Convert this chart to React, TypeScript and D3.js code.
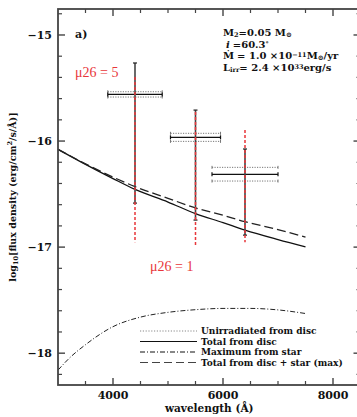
import React from "react";
import * as d3 from "d3";

const solidWave = [3000, 3500, 4000, 4400, 5000, 5500, 6000, 6400, 7000, 7500];
const solidFlux = [-16.078, -16.22, -16.354, -16.456, -16.575, -16.684, -16.769, -16.84, -16.929, -16.997];
const dashedFlux = [-16.078, -16.215, -16.34, -16.43, -16.54, -16.63, -16.70, -16.76, -16.835, -16.905];
const starWave = [3000, 3200, 3500, 4000, 4500, 5000, 5500, 6000, 6500, 7000, 7500];
const starFlux = [-18.16, -18.05, -17.92, -17.75, -17.66, -17.615, -17.59, -17.578, -17.578, -17.592, -17.626];

const obsWave = [4400, 5500, 6400];
const obsHalfWidth = [495, 455, 600];
const obsFlux = [-15.56, -15.965, -16.314];
const obsFluxHi = [-15.264, -15.708, -16.075];
const obsFluxLo = [-16.585, -16.745, -16.887];
const bandHi = [-15.535, -15.927, -16.248];
const bandLo = [-15.585, -16.003, -16.377];
const mu5Flux = [-15.396, -15.726, -15.896];
const mu1Flux = [-16.953, -17.0, -16.953];

const xMajor = [4000, 6000, 8000];
const yMajor = [-15, -16, -17, -18];

const legendLabels = [
  "Unirradiated from disc",
  "Total from disc",
  "Maximum from star",
  "Total from disc + star (max)",
];
const legendDash = ["1.2,1.6", "none", "5,2,1,2", "8,4"];
const legendColor = ["#888", "#111", "#111", "#444"];

export default function App() {
  const W = 357, H = 417;
  const x = d3.scaleLinear().domain([3000, 8500]).range([58, 360.5]);
  const y = d3.scaleLinear().domain([-18.3, -14.755]).range([385, 9]);
  const x0 = x(3000), x1 = x(8500), yT = y(-14.755), yB = y(-18.3);

  const line = d3.line<[number, number]>().x(d => x(d[0])).y(d => y(d[1])).curve(d3.curveMonotoneX);
  const solidPath = line(solidWave.map((w, i) => [w, solidFlux[i]]) as [number, number][]) || "";
  const dashedPath = line(solidWave.map((w, i) => [w, dashedFlux[i]]) as [number, number][]) || "";
  const starPath = line(starWave.map((w, i) => [w, starFlux[i]]) as [number, number][]) || "";

  const xMinor = d3.range(3500, 8501, 500).filter(v => !xMajor.includes(v));
  const yMinor = d3.range(-18.2, -14.75, 0.2).map(v => Math.round(v * 10) / 10).filter(v => !yMajor.includes(v));

  const font = "'DejaVu Serif', serif";
  const axisColor = "#444";

  const ticks: React.ReactNode[] = [];
  xMajor.forEach((v, i) => {
    ticks.push(<line key={"xb" + i} x1={x(v)} x2={x(v)} y1={yB} y2={yB - 7} stroke={axisColor} strokeWidth={1.4} />);
    ticks.push(<line key={"xt" + i} x1={x(v)} x2={x(v)} y1={yT} y2={yT + 7} stroke={axisColor} strokeWidth={1.4} />);
  });
  xMinor.forEach((v, i) => {
    ticks.push(<line key={"xbm" + i} x1={x(v)} x2={x(v)} y1={yB} y2={yB - 4} stroke={axisColor} strokeWidth={1.2} />);
    ticks.push(<line key={"xtm" + i} x1={x(v)} x2={x(v)} y1={yT} y2={yT + 4} stroke={axisColor} strokeWidth={1.2} />);
  });
  yMajor.forEach((v, i) => {
    ticks.push(<line key={"yl" + i} x1={x0} x2={x0 + 7} y1={y(v)} y2={y(v)} stroke={axisColor} strokeWidth={1.4} />);
    ticks.push(<line key={"yr" + i} x1={x1} x2={x1 - 7} y1={y(v)} y2={y(v)} stroke={axisColor} strokeWidth={1.4} />);
  });
  yMinor.forEach((v, i) => {
    ticks.push(<line key={"ylm" + i} x1={x0} x2={x0 + 4} y1={y(v)} y2={y(v)} stroke={axisColor} strokeWidth={1.2} />);
    ticks.push(<line key={"yrm" + i} x1={x1} x2={x1 - 4} y1={y(v)} y2={y(v)} stroke={axisColor} strokeWidth={1.2} />);
  });

  return (
    <svg width={W} height={H} style={{ position: "absolute", left: 0, top: 0, background: "#fff" }} fontFamily={font}>
      <rect x={0} y={0} width={W} height={H} fill="#fff" />
      {/* curves */}
      <path d={solidPath} fill="none" stroke="#111" strokeWidth={1.3} />
      <path d={dashedPath} fill="none" stroke="#222" strokeWidth={1.3} strokeDasharray="9,4" />
      <path d={starPath} fill="none" stroke="#222" strokeWidth={1} strokeDasharray="5,2,1,2" />

      {/* observation bars */}
      {obsWave.map((w, i) => {
        const cx = x(w);
        const xl = x(w - obsHalfWidth[i]);
        const xr = x(w + obsHalfWidth[i]);
        return (
          <g key={"obs" + i}>
            {[bandHi[i], bandLo[i]].map((b, j) => (
              <g key={"band" + j}>
                <line x1={xl} x2={xr} y1={y(b)} y2={y(b)} stroke="#777" strokeWidth={1} strokeDasharray="1.2,1.3" />
                <line x1={xl} x2={xl} y1={y(b) - 1.5} y2={y(b) + 1.5} stroke="#777" strokeWidth={1} />
                <line x1={xr} x2={xr} y1={y(b) - 1.5} y2={y(b) + 1.5} stroke="#777" strokeWidth={1} />
              </g>
            ))}
            <line x1={xl} x2={xr} y1={y(obsFlux[i])} y2={y(obsFlux[i])} stroke="#111" strokeWidth={1.2} />
            <line x1={xl} x2={xl} y1={y(obsFlux[i]) - 2} y2={y(obsFlux[i]) + 2} stroke="#111" strokeWidth={1.2} />
            <line x1={xr} x2={xr} y1={y(obsFlux[i]) - 2} y2={y(obsFlux[i]) + 2} stroke="#111" strokeWidth={1.2} />
            <line x1={cx} x2={cx} y1={y(obsFluxHi[i])} y2={y(obsFluxLo[i])} stroke="#444" strokeWidth={1.6} />
            <line x1={cx - 2} x2={cx + 2} y1={y(obsFluxHi[i])} y2={y(obsFluxHi[i])} stroke="#222" strokeWidth={1.2} />
            <line x1={cx - 2} x2={cx + 2} y1={y(obsFluxLo[i])} y2={y(obsFluxLo[i])} stroke="#222" strokeWidth={1.2} />
            <line x1={cx} x2={cx} y1={y(mu5Flux[i])} y2={y(mu1Flux[i])} stroke="#e8363a" strokeWidth={1.5} strokeDasharray="3,2" />
          </g>
        );
      })}

      {/* frame */}
      <rect x={x0} y={yT} width={x1 - x0} height={yB - yT} fill="none" stroke={axisColor} strokeWidth={1.8} />
      {ticks}

      {/* tick labels */}
      {xMajor.map((v, i) => (
        <text key={"xl" + i} x={x(v)} y={399} textAnchor="middle" fontSize={11} fontWeight="bold" fill="#111">{v}</text>
      ))}
      {yMajor.map((v, i) => (
        <text key={"yl" + i} x={52} y={y(v) + 4} textAnchor="end" fontSize={11} fontWeight="bold" fill="#111">{"\u2212" + Math.abs(v)}</text>
      ))}

      {/* axis titles */}
      <text x={(x0 + x1) / 2} y={412} textAnchor="middle" fontSize={10.5} fontWeight="bold" fill="#111">wavelength (Å)</text>
      <text transform={`translate(16,${(yT + yB) / 2}) rotate(-90)`} textAnchor="middle" fontSize={9.5} fontWeight="bold" fill="#111">
        log<tspan fontSize={6.5} dy={2}>10</tspan><tspan dy={-2}>[flux density (erg/cm</tspan><tspan fontSize={6.5} dy={-4}>2</tspan><tspan dy={4}>/s/Å)]</tspan>
      </text>

      {/* panel label */}
      <text x={75} y={38} fontSize={11} fontWeight="bold" fill="#111">a)</text>

      {/* parameters */}
      <g fontSize={10} fill="#111" fontWeight="bold">
        <text x={223} y={36}>M<tspan fontSize={6.5} dy={1}>2</tspan><tspan dy={-1}>=0.05 M</tspan><tspan fontSize={7} dy={0.5}>⊙</tspan></text>
        <text x={226} y={47.5}><tspan fontStyle="italic">i</tspan><tspan dx={3}>=60.3</tspan><tspan fontSize={6.5} dy={-2}>°</tspan></text>
        <text x={223} y={59}>{"M\u0307"}<tspan dx={3}>= 1.0 ×10</tspan><tspan fontSize={6.5} dy={-2}>−11</tspan><tspan dy={2}>M</tspan><tspan fontSize={7} dy={0.5}>⊙</tspan><tspan dy={-0.5}>/yr</tspan></text>
        <text x={223} y={70.5}>L<tspan fontSize={6.5} dy={1}>irr</tspan><tspan dy={-1}>= 2.4 ×10</tspan><tspan fontSize={6.5} dy={-2}>33</tspan><tspan dy={2}>erg/s</tspan></text>
      </g>

      {/* red labels */}
      <text x={75} y={77} fontSize={14} fill="#e8363a" fontFamily="'Liberation Serif', serif">μ26 = 5</text>
      <text x={150} y={271} fontSize={14} fill="#e8363a" fontFamily="'Liberation Serif', serif">μ26 = 1</text>

      {/* legend */}
      {legendLabels.map((lab, i) => {
        const ly = 331 + i * 10.5;
        return (
          <g key={"leg" + i}>
            <line x1={140} x2={197} y1={ly} y2={ly} stroke={legendColor[i]} strokeWidth={i === 0 ? 1 : 1.2} strokeDasharray={legendDash[i] === "none" ? undefined : legendDash[i]} />
            <text x={201} y={ly + 3} fontSize={9} fill="#111" fontWeight="bold">{lab}</text>
          </g>
        );
      })}
    </svg>
  );
}
